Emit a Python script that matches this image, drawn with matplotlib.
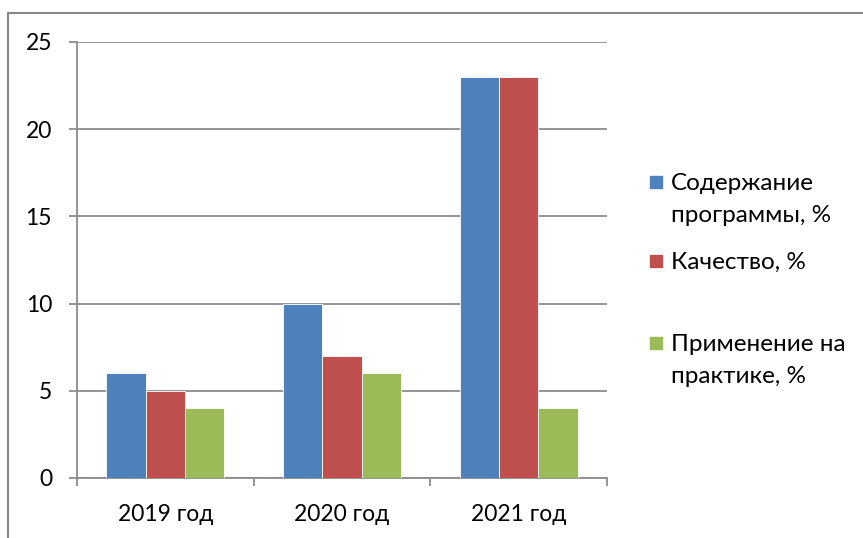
import numpy as np
import matplotlib.pyplot as plt
from matplotlib.lines import Line2D
from matplotlib.patches import Rectangle

years = ["2019 год", "2020 год", "2021 год"]
series_names = ["Содержание\nпрограммы, %", "Качество, %", "Применение на\nпрактике, %"]
content = [6, 10, 23]
quality = [5, 7, 23]
practice = [4, 6, 4]
colors = ["#4F81BD", "#C0504D", "#9BBB59"]

plt.rcParams['font.family'] = ['Lato', 'DejaVu Sans']
W, H = 863, 538
fig = plt.figure(figsize=(W / 100, H / 100), dpi=100)
ax = fig.add_axes([77 / W, 1 - 478 / H, (607 - 77) / W, (478 - 42) / H])

x = np.arange(len(years))
bw = 1 / 4.5
for i, vals in enumerate([content, quality, practice]):
    ax.bar(x + (i - 1) * bw, vals, bw, color=colors[i], edgecolor="white",
           linewidth=0.6, zorder=3)

grid_c = "#8C8C8C"
ax.set_xlim(-0.5, 2.5)
ax.set_ylim(0, 25)
ax.set_yticks(range(0, 26, 5))
ax.yaxis.grid(True, color=grid_c, linewidth=1.3)
ax.set_axisbelow(True)
for s in ["top", "right"]:
    ax.spines[s].set_visible(False)
for s in ["left", "bottom"]:
    ax.spines[s].set_color(grid_c)
    ax.spines[s].set_linewidth(1.3)
ax.tick_params(axis="y", length=6, width=1.3, color=grid_c, pad=12, labelsize=16.5)
ax.set_xticks([-0.5, 0.5, 1.5, 2.5])
ax.set_xticklabels([])
ax.set_xticks(x, minor=True)
ax.set_xticklabels(years, minor=True)
ax.tick_params(axis="x", which="major", length=6, width=1.3, color=grid_c)
ax.tick_params(axis="x", which="minor", length=0, pad=19, labelsize=16.5)

# legend
entries = [(176, ["Содержание", "программы, %"]),
           (255, ["Качество, %"]),
           (337, ["Применение на", "практике, %"])]
for (top, lines), c in zip(entries, colors):
    fig.patches.append(Rectangle((650 / W, 1 - (top + 12) / H), 12 / W, 12 / H,
                                 transform=fig.transFigure, color=c))
    for j, t in enumerate(lines):
        fig.text(671 / W, 1 - (top + 14 + 32 * j) / H, t, fontsize=17.5,
                 va="baseline", ha="left")

# outer frame
fig.add_artist(Line2D([8 / W, 8 / W], [0, 1 - 13 / H], color="#888888", lw=1.5,
                      transform=fig.transFigure))
fig.add_artist(Line2D([8 / W, 1], [1 - 13 / H, 1 - 13 / H], color="#888888", lw=1.5,
                      transform=fig.transFigure))

fig.savefig("out.png", dpi=100)
